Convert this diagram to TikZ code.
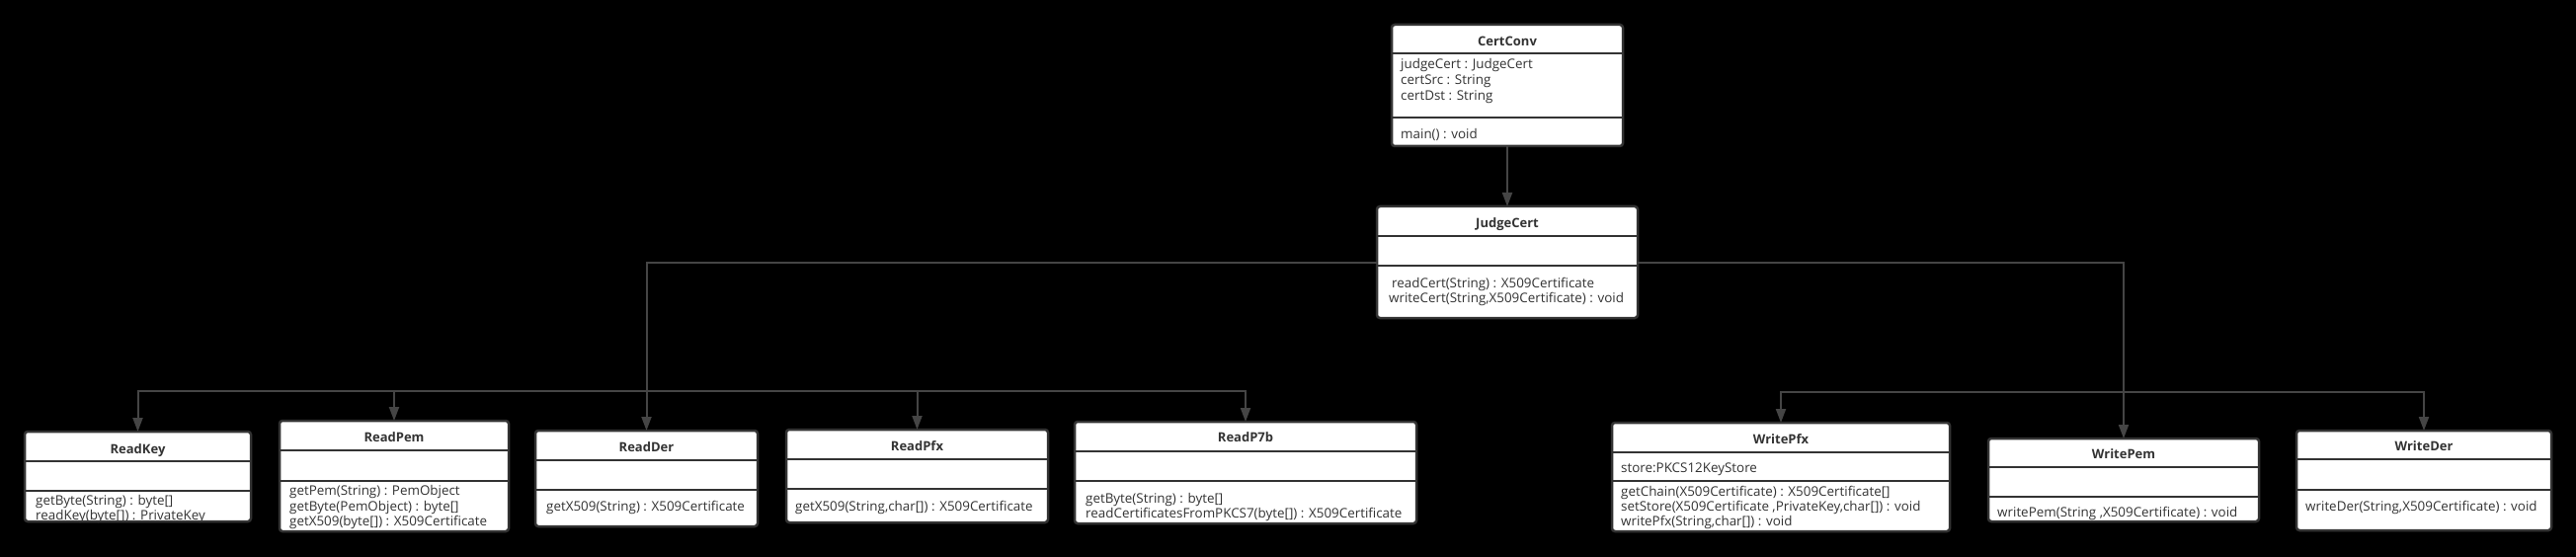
\documentclass[tikz,border=0pt]{standalone}
\usepackage{fontspec}
\setmainfont{Open Sans}
\usetikzlibrary{arrows.meta}
\definecolor{ink}{HTML}{333333}
\definecolor{linegray}{HTML}{454545}
\newcommand{\umlbox}[7]{%
  \node[classbox, minimum width={(#4-#2)*1pt}, minimum height={(#5-#3)*1pt}, anchor=north west] (#1) at (#2,-#3) {};
  \draw[divider] (#2,-#6) -- (#4,-#6);
  \draw[divider] (#2,-#7) -- (#4,-#7);
}
\newcommand{\umltitle}[4]{\node[umltitlestyle] (#1) at (#2,{-(#3+4.6)}) {#4};}
\newcommand{\umlmember}[4]{\node[memberstyle] (#1) at (#2,{-(#3+4.5)}) {#4};}
\begin{document}
\begin{tikzpicture}[x=1pt,y=1pt,
  classbox/.style={draw=ink, fill=white, line width=2.5pt, rounded corners=3pt, inner sep=0pt, outer sep=0pt},
  divider/.style={draw=ink, line width=2.5pt},
  umltitlestyle/.style={font=\fontsize{13}{15.7}\selectfont\bfseries, text=ink, inner sep=0pt, anchor=base},
  memberstyle/.style={font=\fontsize{13.4}{15.7}\selectfont, text=ink, inner sep=0pt, anchor=base west},
  conn/.style={draw=linegray, line width=2pt, -{Triangle[width=10pt,length=14pt]}},
]
\fill[black] (0,0) rectangle (2608,-564);
\useasboundingbox (0,0) rectangle (2608,-564);

% boxes
\umlbox{certconv}{1409}{25}{1643}{148}{54}{119}
\umlbox{judgecert}{1394}{209}{1658}{322}{239}{269}
\umlbox{readkey}{25}{437}{254}{528}{467}{497}
\umlbox{readpem}{283}{426}{515}{538}{456}{487}
\umlbox{readder}{542}{436}{767}{533}{466}{496}
\umlbox{readpfx}{796}{435}{1061}{529}{465}{495}
\umlbox{readp7b}{1088}{427}{1434}{530}{457}{487}
\umlbox{writepfx}{1632}{428}{1974}{538}{458}{487}
\umlbox{writepem}{2013}{444}{2287}{528}{473}{503}
\umlbox{writeder}{2325}{436}{2583}{537}{465}{496}

% connectors
\coordinate (busL) at (readder.north |- 0,-396);
\coordinate (busR) at (writepem.north |- 0,-397);
\draw[conn] (certconv.south) -- (judgecert.north);
\draw[conn] (judgecert.west) -| (readder.north);
\draw[conn] (judgecert.west) -| (busL) -| (readkey.north);
\draw[conn] (judgecert.west) -| (busL) -| (readpem.north);
\draw[conn] (judgecert.west) -| (busL) -| (readpfx.north);
\draw[conn] (judgecert.west) -| (busL) -| (readp7b.north);
\draw[conn] (judgecert.east) -| (writepem.north);
\draw[conn] (judgecert.east) -| (busR) -| (writepfx.north);
\draw[conn] (judgecert.east) -| (busR) -| (writeder.north);

% titles
\umltitle{certconv-t}{1526}{42}{CertConv}
\umltitle{judgecert-t}{1526}{226}{JudgeCert}
\umltitle{readkey-t}{139.5}{455}{ReadKey}
\umltitle{readpem-t}{399}{443}{ReadPem}
\umltitle{readder-t}{654.5}{453}{ReadDer}
\umltitle{readpfx-t}{928.5}{452}{ReadPfx}
\umltitle{readp7b-t}{1261}{443}{ReadP7b}
\umltitle{writepfx-t}{1803}{445}{WritePfx}
\umltitle{writepem-t}{2150}{460}{WritePem}
\umltitle{writeder-t}{2454}{452}{WriteDer}

% members
\umlmember{cc-a1}{1418}{65}{judgeCert : JudgeCert}
\umlmember{cc-a2}{1418}{80.7}{certSrc : String}
\umlmember{cc-a3}{1418}{96.7}{certDst : String}
\umlmember{cc-m1}{1418}{136}{main() : void}
\umlmember{jc-m1}{1409}{286.7}{readCert(String) : X509Certificate}
\umlmember{jc-m2}{1406}{301.7}{writeCert(String,X509Certificate) : void}
\umlmember{rk-m1}{36}{507}{getByte(String) : byte[]}
\umlmember{rk-m2}{36}{522}{readKey(byte[]) : PrivateKey}
\umlmember{rpem-m1}{293}{497}{getPem(String) : PemObject}
\umlmember{rpem-m2}{293}{513}{getByte(PemObject) : byte[]}
\umlmember{rpem-m3}{293}{528}{getX509(byte[]) : X509Certificate}
\umlmember{rder-m1}{553}{513}{getX509(String) : X509Certificate}
\umlmember{rpfx-m1}{805}{513}{getX509(String,char[]) : X509Certificate}
\umlmember{rp7b-m1}{1099}{505}{getByte(String) : byte[]}
\umlmember{rp7b-m2}{1099}{520}{readCertificatesFromPKCS7(byte[]) : X509Certificate}
\umlmember{wpfx-a1}{1641}{474}{store:PKCS12KeyStore}
\umlmember{wpfx-m1}{1641}{498}{getChain(X509Certificate) : X509Certificate[]}
\umlmember{wpfx-m2}{1641}{513}{setStore(X509Certificate ,PrivateKey,char[]) : void}
\umlmember{wpfx-m3}{1641}{528}{writePfx(String,char[]) : void}
\umlmember{wpem-m1}{2022}{519}{writePem(String ,X509Certificate) : void}
\umlmember{wder-m1}{2334}{513}{writeDer(String,X509Certificate) : void}
\end{tikzpicture}
\end{document}
